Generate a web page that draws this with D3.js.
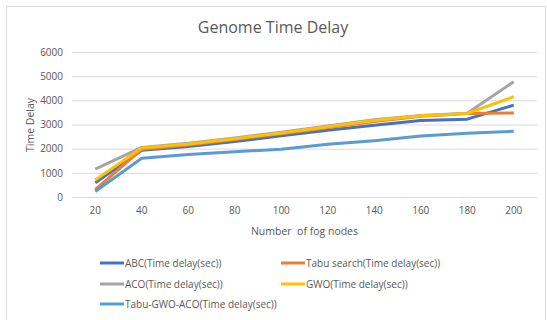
<!DOCTYPE html>
<html>
<head>
<meta charset="utf-8">
<script src="https://cdn.jsdelivr.net/npm/d3@7"></script>
<style>
  html, body { margin: 0; padding: 0; background: #fff; }
  svg { display: block; }
  text { font-family: "Open Sans", "Noto Sans", sans-serif; fill: #595959; }
</style>
</head>
<body>
<svg id="chart" width="547" height="320"></svg>
<script>
// Number of fog nodes (x categories)
const fogNodes = [20, 40, 60, 80, 100, 120, 140, 160, 180, 200];

// Time delay (sec) per algorithm
const abc        = [590, 1930, 2090, 2300, 2530, 2760, 2970, 3170, 3220, 3800];
const tabuSearch = [300, 1980, 2150, 2380, 2620, 2870, 3120, 3340, 3460, 3480];
const aco        = [1150, 2050, 2220, 2440, 2680, 2940, 3200, 3370, 3470, 4770];
const gwo        = [700, 2030, 2190, 2410, 2650, 2910, 3170, 3360, 3460, 4150];
const tabuGwoAco = [230, 1600, 1760, 1870, 1980, 2180, 2330, 2520, 2640, 2720];

const seriesNames = [
  "ABC(Time delay(sec))",
  "Tabu search(Time delay(sec))",
  "ACO(Time delay(sec))",
  "GWO(Time delay(sec))",
  "Tabu-GWO-ACO(Time delay(sec))"
];
const seriesColors = ["#4472C4", "#ED7D31", "#A5A5A5", "#FFC000", "#5B9BD5"];
const yTicks = [0, 1000, 2000, 3000, 4000, 5000, 6000];

const series = [abc, tabuSearch, aco, gwo, tabuGwoAco].map((values, i) => ({
  name: seriesNames[i],
  color: seriesColors[i],
  values
}));

const svg = d3.select("#chart");

// chart frame
svg.append("rect")
  .attr("x", 6.5).attr("y", 6.5)
  .attr("width", 539).attr("height", 320)
  .attr("fill", "#fff").attr("stroke", "#d9d9d9").attr("stroke-width", 1);

const plot = { left: 72, right: 537, top: 52, bottom: 197 };

const x = d3.scaleBand()
  .domain(fogNodes)
  .range([plot.left, plot.right]);

const y = d3.scaleLinear()
  .domain([0, 6000])
  .range([plot.bottom, plot.top]);

// title
svg.append("text")
  .attr("x", 273).attr("y", 27)
  .attr("text-anchor", "middle")
  .attr("dominant-baseline", "central")
  .style("font-size", "16px")
  .text("Genome Time Delay");

// y gridlines + labels
const yAxis = svg.append("g")
  .attr("transform", `translate(${plot.left},0)`)
  .call(d3.axisLeft(y).tickValues(yTicks).tickSize(-(plot.right - plot.left)).tickPadding(9).tickFormat(d3.format("d")));
yAxis.select(".domain").remove();
yAxis.selectAll(".tick line").attr("stroke", "#d9d9d9").attr("stroke-width", 1);
yAxis.selectAll(".tick text").style("font-size", "10px").attr("fill", "#595959");

// x labels
const xAxis = svg.append("g")
  .attr("transform", `translate(0,${plot.bottom})`)
  .call(d3.axisBottom(x).tickSize(0).tickPadding(10));
xAxis.select(".domain").remove();
xAxis.selectAll(".tick text").style("font-size", "10px").attr("fill", "#595959");

// axis titles
svg.append("text")
  .attr("x", (plot.left + plot.right) / 2).attr("y", 231)
  .attr("text-anchor", "middle")
  .attr("dominant-baseline", "central")
  .style("font-size", "10.5px")
  .style("white-space", "pre")
  .text("Number  of fog nodes");

svg.append("text")
  .attr("transform", "translate(30,125) rotate(-90)")
  .attr("text-anchor", "middle")
  .attr("dominant-baseline", "central")
  .style("font-size", "10.5px")
  .text("Time Delay");

// lines
const line = d3.line()
  .x((d, i) => x(fogNodes[i]) + x.bandwidth() / 2)
  .y(d => y(d));

svg.append("g").selectAll("path")
  .data(series)
  .join("path")
  .attr("d", d => line(d.values))
  .attr("fill", "none")
  .attr("stroke", d => d.color)
  .attr("stroke-width", 3)
  .attr("stroke-linejoin", "round");

// legend
const legendPos = [
  { x: 100, y: 263 }, { x: 281, y: 263 },
  { x: 100, y: 284 }, { x: 281, y: 284 },
  { x: 100, y: 304 }
];
const legend = svg.append("g").selectAll("g")
  .data(series)
  .join("g")
  .attr("transform", (d, i) => `translate(${legendPos[i].x},${legendPos[i].y})`);
legend.append("line")
  .attr("x1", 0).attr("x2", 24)
  .attr("stroke", d => d.color).attr("stroke-width", 3);
legend.append("text")
  .attr("x", 25)
  .attr("dominant-baseline", "central")
  .style("font-size", "10px")
  .text(d => d.name);
</script>
</body>
</html>
